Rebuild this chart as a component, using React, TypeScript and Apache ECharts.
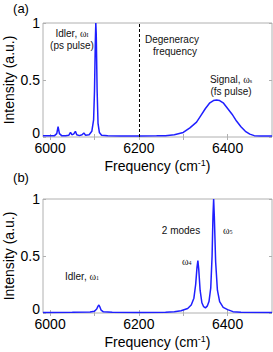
import React, { useEffect, useRef } from "react";
import * as echarts from "echarts";

// Panel (a): idler (ps pulse) + signal (fs pulse)
const freqA = [5984, 6000, 6010, 6015, 6018, 6021, 6026, 6035, 6042, 6046, 6049, 6053, 6057, 6060, 6066, 6072, 6076, 6080, 6088, 6094, 6098, 6100, 6102, 6103, 6104, 6106, 6108, 6111, 6116, 6130, 6160, 6200, 6240, 6260, 6280, 6300, 6315, 6330, 6340, 6350, 6360, 6368, 6375, 6382, 6390, 6400, 6410, 6420, 6430, 6440, 6450, 6460, 6475, 6500];
const intA = [0.01, 0.01, 0.012, 0.03, 0.09, 0.03, 0.012, 0.01, 0.015, 0.04, 0.02, 0.025, 0.05, 0.02, 0.012, 0.02, 0.035, 0.015, 0.02, 0.05, 0.15, 0.4, 0.85, 1.0, 0.9, 0.4, 0.12, 0.04, 0.015, 0.01, 0.008, 0.008, 0.01, 0.012, 0.02, 0.04, 0.08, 0.13, 0.19, 0.25, 0.3, 0.32, 0.325, 0.32, 0.3, 0.25, 0.2, 0.14, 0.09, 0.05, 0.025, 0.012, 0.008, 0.008];

// Panel (b): idler + 2 modes
const freqB = [5984, 6000, 6050, 6090, 6100, 6105, 6108, 6110, 6112, 6115, 6120, 6140, 6200, 6260, 6280, 6295, 6310, 6318, 6324, 6328, 6331, 6333, 6335, 6338, 6342, 6346, 6350, 6354, 6358, 6362, 6365, 6367, 6368.5, 6370, 6373, 6377, 6382, 6390, 6400, 6412, 6430, 6500];
const intB = [0.005, 0.005, 0.006, 0.008, 0.015, 0.035, 0.06, 0.07, 0.055, 0.025, 0.01, 0.006, 0.005, 0.006, 0.01, 0.02, 0.04, 0.07, 0.13, 0.25, 0.4, 0.46, 0.38, 0.2, 0.09, 0.055, 0.045, 0.06, 0.1, 0.22, 0.5, 0.85, 1.0, 0.85, 0.45, 0.2, 0.1, 0.05, 0.03, 0.012, 0.006, 0.005];

const xLabelValues = [6000, 6200, 6400];
const xTickValues = [6000, 6100, 6200, 6300, 6400];
const degeneracyFreq = 6200;

const FONT = "Liberation Sans, Arial, Helvetica, sans-serif";
const BLUE = "#1f1fff";
const GREY = "#b0b0b0";

export default function App() {
  const ref = useRef<HTMLDivElement>(null);
  useEffect(() => {
    if (!ref.current) return;
    const chart = echarts.init(ref.current, null, { renderer: "svg" });
    const grids = [
      { left: 43, top: 23, width: 229, height: 114 },
      { left: 43, top: 199, width: 229, height: 114 },
    ];
    const xAxes: any[] = [];
    const yAxes: any[] = [];
    grids.forEach((_, i) => {
      xAxes.push({
        type: "value",
        gridIndex: i,
        min: 5984,
        max: 6500,
        position: "bottom",
        name: "Frequency (cm{sup|-1})",
        nameLocation: "middle",
        nameGap: 21,
        nameMoveOverlap: false,
        nameTextStyle: {
          fontFamily: FONT,
          fontSize: 14,
          color: "#000",
          rich: { sup: { fontSize: 9, verticalAlign: "top", fontFamily: FONT, color: "#000", padding: [0, 0, 6, 0] } },
        },
        axisLine: { show: false },
        axisTick: { show: true, inside: true, length: 3, customValues: xTickValues, lineStyle: { color: GREY } },
        axisLabel: {
          customValues: xLabelValues,
          fontFamily: FONT,
          fontSize: 14,
          color: "#000",
          margin: 4,
          formatter: (v: number) => String(v),
        },
        splitLine: { show: false },
      });
      xAxes.push({
        type: "value",
        gridIndex: i,
        min: 5984,
        max: 6500,
        position: "top",
        axisLine: { show: false },
        axisTick: { show: true, inside: true, length: 3, customValues: xTickValues, lineStyle: { color: GREY } },
        axisLabel: { show: false },
        splitLine: { show: false },
      });
      yAxes.push({
        type: "value",
        gridIndex: i,
        min: 0,
        max: 1,
        interval: 0.5,
        name: "Intensity (a.u.)",
        nameLocation: "middle",
        nameGap: 27,
        nameMoveOverlap: false,
        nameTextStyle: { fontFamily: FONT, fontSize: 14, color: "#000" },
        axisLine: { show: false },
        axisTick: { show: true, inside: true, length: 3, lineStyle: { color: GREY } },
        axisLabel: {
          fontFamily: FONT,
          fontSize: 14,
          color: "#000",
          margin: 3,
          formatter: (v: number) => (v === 0 ? "{z|0}" : String(v)),
          rich: { z: { fontFamily: FONT, fontSize: 14, color: "#000", padding: [0, 0, 8, 0] } },
        },
        splitLine: { show: false },
      });
      yAxes.push({
        type: "value",
        gridIndex: i,
        min: 0,
        max: 1,
        interval: 0.5,
        position: "right",
        axisLine: { show: false },
        axisTick: { show: true, inside: true, length: 3, lineStyle: { color: GREY } },
        axisLabel: { show: false },
        splitLine: { show: false },
      });
    });

    const txt = (x: number, y: number, text: string, align = "left", size = 10) => ({
      type: "text",
      x,
      y,
      style: {
        text,
        fontFamily: FONT,
        fontSize: size,
        fill: "#111",
        align,
        verticalAlign: "middle",
        rich: {
          w: { fontFamily: "Liberation Serif, serif", fontSize: size, fill: "#111" },
          sub: { fontFamily: "Liberation Serif, serif", fontSize: 6, fill: "#111", verticalAlign: "bottom", padding: [4, 0, 0, 0] },
        },
      },
    });

    chart.setOption({
      animation: false,
      grid: grids.map((g) => ({
        ...g,
        show: true,
        borderColor: GREY,
        borderWidth: 1,
        backgroundColor: "transparent",
        containLabel: false,
        outerBoundsMode: "none",
      })),
      xAxis: xAxes,
      yAxis: yAxes,
      series: [
        {
          type: "line",
          xAxisIndex: 0,
          yAxisIndex: 0,
          data: freqA.map((f, i) => [f, intA[i]]),
          showSymbol: false,
          lineStyle: { color: BLUE, width: 1.5 },
          markLine: {
            silent: true,
            symbol: "none",
            label: { show: false },
            lineStyle: { color: "#000", type: [3, 2], width: 1 },
            data: [{ xAxis: degeneracyFreq }],
          },
        },
        {
          type: "line",
          xAxisIndex: 2,
          yAxisIndex: 2,
          data: freqB.map((f, i) => [f, intB[i]]),
          showSymbol: false,
          lineStyle: { color: BLUE, width: 1.5 },
        },
      ],
      graphic: [
        { type: "text", x: 21, y: 8, style: { text: "(a)", fontFamily: FONT, fontSize: 13, fill: "#000", align: "center", verticalAlign: "middle" } },
        { type: "text", x: 21, y: 177, style: { text: "(b)", fontFamily: FONT, fontSize: 13, fill: "#000", align: "center", verticalAlign: "middle" } },
        txt(72, 33, "Idler, {w|ω}{sub|I}", "center"),
        txt(72, 45, "(ps pulse)", "center"),
        txt(145, 39, "Degeneracy", "left"),
        txt(175, 51, "frequency", "center"),
        txt(231, 79, "Signal, {w|ω}{sub|s}", "center"),
        txt(231, 91, "(fs pulse)", "center"),
        txt(181, 230, "2 modes", "center"),
        txt(223, 230, "{w|ω}{sub|5}", "left"),
        txt(182, 261, "{w|ω}{sub|4}", "left"),
        txt(65, 276, "Idler, {w|ω}{sub|1}", "left"),
      ],
    });
    return () => chart.dispose();
  }, []);
  return <div ref={ref} style={{ position: "absolute", left: 0, top: 0, width: 273, height: 352 }} />;
}
